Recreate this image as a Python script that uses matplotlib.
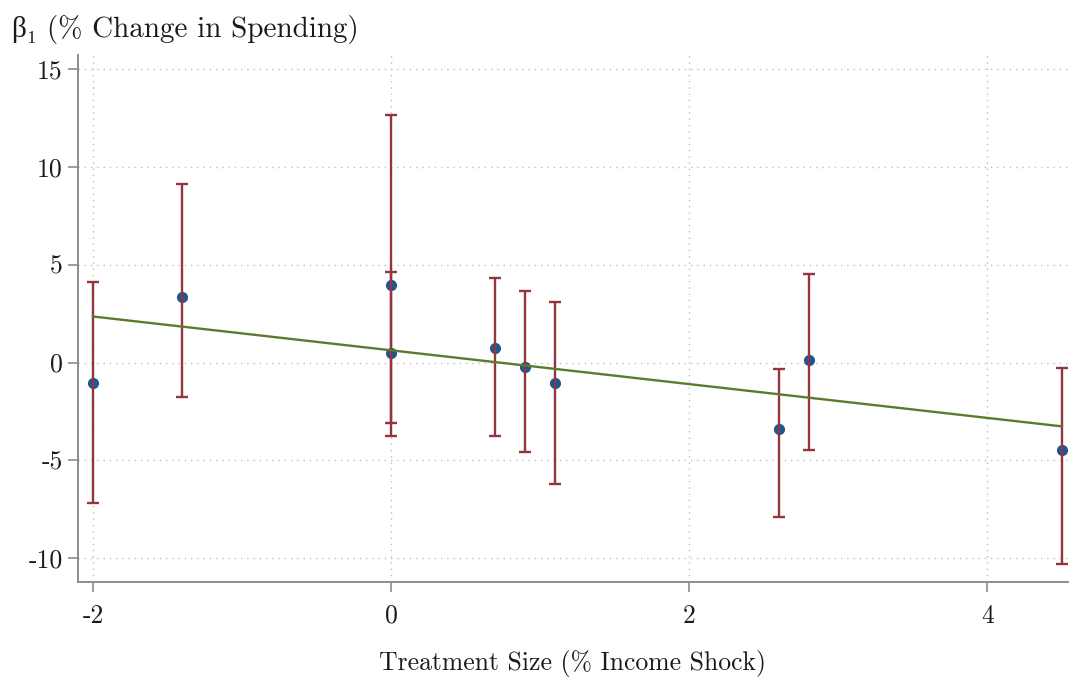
import matplotlib
matplotlib.use("Agg")
import matplotlib.pyplot as plt

# %% Data

treat_x = [-2.0, -1.4, 0.0, 0.0, 0.7, 0.9, 1.1, 2.6, 2.8, 4.5]
beta = [-1.07, 3.37, 3.94, 0.49, 0.75, -0.24, -1.07, -3.37, 0.15, -4.45]
ci_hi = [4.09, 9.10, 12.64, 4.60, 4.29, 3.66, 3.07, -0.31, 4.53, -0.29]
ci_lo = [-7.16, -1.74, -3.10, -3.73, -3.73, -4.55, -6.19, -7.89, -4.45, -10.30]

fit_x = [-2.0, 4.5]
fit_y = [2.35, -3.26]

xticks = [-2, 0, 2, 4]
xtick_labels = ["-2", "0", "2", "4"]
yticks = [-10, -5, 0, 5, 10, 15]
ytick_labels = ["-10", "-5", "0", "5", "10", "15"]

# %% Style

plt.rcParams["font.family"] = "serif"
plt.rcParams["font.serif"] = ["cmr10"]
plt.rcParams["mathtext.fontset"] = "cm"
plt.rcParams["axes.unicode_minus"] = False
plt.rcParams["axes.formatter.use_mathtext"] = True

navy = "#1f5591"
maroon = "#93353d"
olive = "#5a7a2e"
axis_grey = "#8c8c8c"
txt = "#1a1a1a"
fs = 18.5

# %% Plot

fig = plt.figure(figsize=(10.69, 6.79), dpi=100)
ax = fig.add_axes([0.073, 0.143, 0.926, 0.776])

lower = [b - lo for b, lo in zip(beta, ci_lo)]
upper = [hi - b for b, hi in zip(beta, ci_hi)]

ax.plot(treat_x, beta, "o", color=navy, markersize=7, zorder=3)
ax.errorbar(treat_x, beta, yerr=[lower, upper], fmt="none", ecolor=maroon,
            elinewidth=1.7, capsize=4.5, capthick=1.7, zorder=4)
ax.plot(fit_x, fit_y, color=olive, linewidth=1.7, zorder=5)

ax.set_xlim(-2.1, 4.54)
ax.set_ylim(-11.2, 15.7)

ax.set_xticks(xticks)
ax.set_xticklabels(xtick_labels)
ax.set_yticks(yticks)
ax.set_yticklabels(ytick_labels)

ax.grid(True, color="#bdbdbd", linestyle=(0, (1, 3.5)), linewidth=1.0)
ax.set_axisbelow(True)

for side in ["top", "right"]:
    ax.spines[side].set_visible(False)
for side in ["left", "bottom"]:
    ax.spines[side].set_color(axis_grey)
    ax.spines[side].set_linewidth(1.4)

ax.tick_params(axis="both", colors=axis_grey, labelcolor=txt,
               labelsize=fs, length=7, width=1.2, direction="out")
ax.tick_params(axis="x", pad=9)
ax.tick_params(axis="y", pad=4)

ax.set_xlabel("Treatment Size (% Income Shock)", fontsize=fs, color=txt, labelpad=16)

# y title on top left; beta and subscript come from the fallback fonts
fig.text(0.011, 0.9455, "β\u2081 (% Change in Spending)", fontsize=21, color=txt,
         family=["cmr10", "Liberation Serif", "DejaVu Serif"], ha="left", va="baseline")

fig.savefig("out.png", dpi=100)
